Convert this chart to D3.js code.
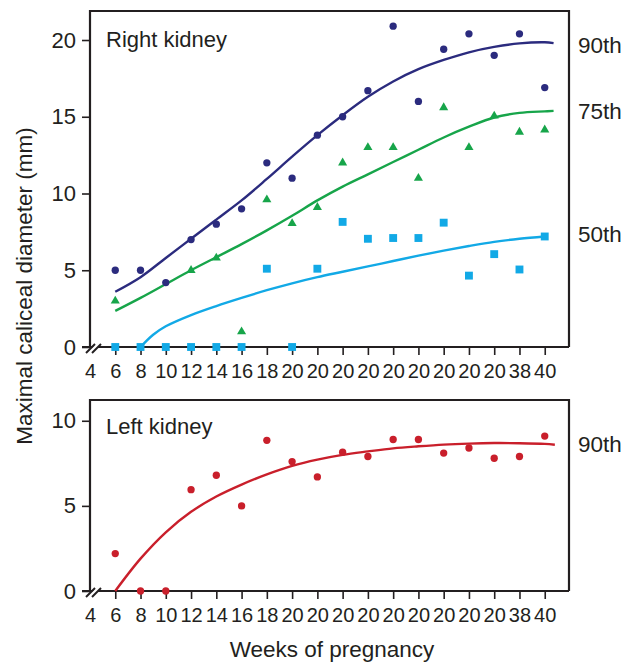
<!DOCTYPE html>
<html><head><meta charset="utf-8">
<script src="https://cdn.jsdelivr.net/npm/d3@7"></script>
<style>
html,body{margin:0;padding:0;background:#fff;}
svg text{font-family:"Liberation Sans",Arial,Helvetica,sans-serif;fill:#231f20;}
</style></head>
<body>
<svg id="chart" width="627" height="663"></svg>
<script>
// ---- data ----
const xLabels = ["4","6","8","10","12","14","16","18","20","20","20","20","20","20","20","20","20","38","40"];
const pointIdx = [1,2,3,4,5,6,7,8,9,10,11,12,13,14,15,16,17,18];

// Right kidney observations
const right90 = [5.0,5.0,4.2,7.0,8.0,9.0,12.0,11.0,13.8,15.0,16.7,20.9,16.0,19.4,20.4,19.0,20.4,16.9];
const right75 = [3.0,null,null,5.0,5.8,1.0,9.6,8.05,9.1,12.0,13.0,13.0,11.0,15.6,13.0,15.05,14.0,14.15];
const right50 = [0,0,0,0,0,0,5.1,0,5.1,8.15,7.05,7.1,7.1,8.1,4.65,6.05,5.05,7.2];

// Right kidney percentile curves
const curve90X = [1,2,3,4,5,6,7,8,9,10,11,12,13,14,15,16,17,18,18.35];
const curve90Y = [3.6,4.55,5.8,7.05,8.3,9.55,10.95,12.4,13.8,15.1,16.3,17.3,18.1,18.7,19.2,19.55,19.78,19.85,19.8];
const curve75X = [1,2,3,4,5,6,7,8,9,10,11,12,13,14,15,16,17,18,18.35];
const curve75Y = [2.35,3.2,4.1,5.0,5.85,6.7,7.6,8.55,9.55,10.45,11.25,12.05,12.85,13.65,14.35,14.95,15.25,15.35,15.38];
const curve50X = [2,2.5,3,4,5,6,7,8,9,10,11,12,13,14,15,16,17,18];
const curve50Y = [0,0.8,1.35,2.08,2.67,3.2,3.7,4.15,4.55,4.9,5.25,5.6,5.95,6.28,6.58,6.85,7.05,7.2];

// Left kidney
const left90 = [2.2,0,0,5.95,6.8,5.0,8.85,7.6,6.7,8.15,7.9,8.9,8.9,8.1,8.4,7.8,7.9,9.1];
const curveLX = [1,2,3,4,5,6,7,8,9,10,11,12,13,14,15,16,17,18,18.4];
const curveLY = [0,1.9,3.45,4.65,5.55,6.25,6.85,7.35,7.72,8.0,8.2,8.38,8.5,8.6,8.66,8.69,8.68,8.64,8.59];

const topTicks = [0,5,10,15,20];
const botTicks = [0,5,10];

// ---- style ----
const C90 = "#2b2b7e", C75 = "#17a54a", C50 = "#12a9e6", CL = "#c91f2b", INK = "#231f20";

const svg = d3.select("#chart");
const x = d3.scaleLinear().domain([0,19]).range([90,570]);
const yT = d3.scaleLinear().domain([0,21.89]).range([347,11]);
const yB = d3.scaleLinear().domain([0,11.22]).range([591,400]);

function panel(y, ticks, top, bottom) {
  const g = svg.append("g");
  // y axis
  const ya = g.append("g").attr("transform","translate(90,0)")
    .call(d3.axisLeft(y).tickValues(ticks).tickSize(8).tickPadding(6));
  ya.select(".domain").remove();
  ya.selectAll("line").attr("stroke",INK).attr("stroke-width",1.6);
  ya.selectAll("text").attr("font-size",22).attr("fill",INK);
  // x axis
  const xa = g.append("g").attr("transform",`translate(0,${bottom})`)
    .call(d3.axisBottom(x).tickValues(d3.range(0,19)).tickFormat(i=>xLabels[i]).tickSize(8).tickPadding(9));
  xa.select(".domain").remove();
  xa.selectAll("line").attr("stroke",INK).attr("stroke-width",1.6)
    .filter(d=>d===0).remove();
  xa.selectAll("text").attr("font-size",20).attr("fill",INK);
  // frame
  g.append("path")
    .attr("d",`M90,${bottom}V${top}H569V${bottom}`)
    .attr("fill","none").attr("stroke",INK).attr("stroke-width",2.2);
  g.append("line").attr("x1",82).attr("x2",569).attr("y1",bottom).attr("y2",bottom)
    .attr("stroke",INK).attr("stroke-width",2.2);
  // axis break
  g.append("path").attr("d",`M87,${bottom+6}L96,${bottom-3}L101,${bottom-3}L92,${bottom+6}Z`).attr("fill","#fff");
  g.append("line").attr("x1",86).attr("y1",bottom+6).attr("x2",95).attr("y2",bottom-3)
    .attr("stroke",INK).attr("stroke-width",2);
  g.append("line").attr("x1",92).attr("y1",bottom+6).attr("x2",101).attr("y2",bottom-3)
    .attr("stroke",INK).attr("stroke-width",2);
  return g;
}

const gT = panel(yT, topTicks, 11, 347);
const gB = panel(yB, botTicks, 400, 591);

function drawCurve(g, xs, ys, y, color) {
  const pts = xs.map((d,i)=>[d, ys[i]]);
  g.append("path").datum(pts)
    .attr("d", d3.line().x(d=>x(d[0])).y(d=>y(d[1])).curve(d3.curveCatmullRom.alpha(0.5)))
    .attr("fill","none").attr("stroke",color).attr("stroke-width",2.4);
}
drawCurve(gT, curve90X, curve90Y, yT, C90);
drawCurve(gT, curve75X, curve75Y, yT, C75);
drawCurve(gT, curve50X, curve50Y, yT, C50);
drawCurve(gB, curveLX, curveLY, yB, CL);

function drawPoints(g, vals, y, color, type, size) {
  const data = pointIdx.map((d,i)=>({i:d, v:vals[i]})).filter(d=>d.v!==null);
  g.append("g").selectAll("path").data(data).join("path")
    .attr("transform", d=>`translate(${x(d.i)},${y(d.v)})`)
    .attr("d", d3.symbol().type(type).size(size))
    .attr("fill", color);
}
drawPoints(gT, right50, yT, C50, d3.symbolSquare, 62);
drawPoints(gT, right75, yT, C75, d3.symbolTriangle, 36);
drawPoints(gT, right90, yT, C90, d3.symbolCircle, 42);
drawPoints(gB, left90, yB, CL, d3.symbolCircle, 42);

// panel labels
svg.append("text").attr("x",106).attr("y",47).attr("font-size",22).text("Right kidney");
svg.append("text").attr("x",106).attr("y",434).attr("font-size",22).text("Left kidney");
// percentile labels
const rl = [["90th",53],["75th",119],["50th",242]];
rl.forEach(([t,yy])=>svg.append("text").attr("x",578).attr("y",yy).attr("font-size",22.5).text(t));
svg.append("text").attr("x",578).attr("y",452).attr("font-size",22.5).text("90th");
// axis titles
svg.append("text").attr("x",332).attr("y",657).attr("text-anchor","middle").attr("font-size",22.5).text("Weeks of pregnancy");
svg.append("text").attr("transform","translate(32,286) rotate(-90)").attr("text-anchor","middle").attr("font-size",22.5).text("Maximal caliceal diameter (mm)");
</script>
</body></html>
